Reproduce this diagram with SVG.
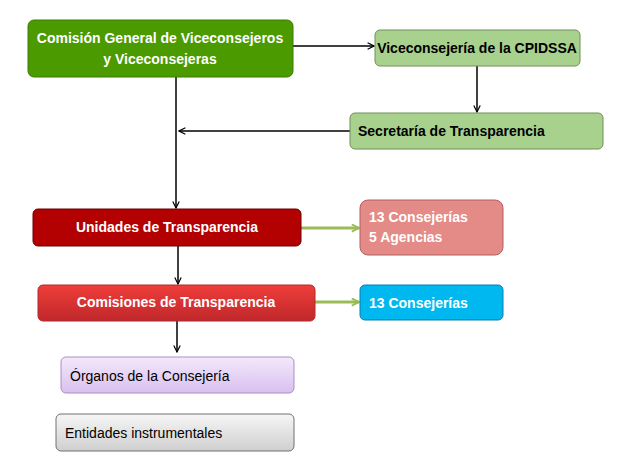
<svg xmlns="http://www.w3.org/2000/svg" width="622" height="474" viewBox="0 0 622 474">
<defs>
<style>
text{font-family:"Liberation Sans",Arial,sans-serif;font-size:14px}
.b{font-weight:bold}
.w{fill:#fff}
.k{fill:#000}
.ln{stroke:#000;stroke-width:1.5;fill:none}
.g{stroke:#9bbb59;stroke-width:3;fill:none}
</style>
<marker id="a" viewBox="0 0 10 10" refX="9" refY="5" markerWidth="8" markerHeight="8" orient="auto" markerUnits="userSpaceOnUse"><path d="M1,1 L9,5 L1,9" fill="none" stroke="#000" stroke-width="1.5"/></marker>
<marker id="ag" viewBox="0 0 10 10" refX="9" refY="5" markerWidth="9" markerHeight="9" orient="auto" markerUnits="userSpaceOnUse"><path d="M1,1 L9,5 L1,9" fill="none" stroke="#9bbb59" stroke-width="2"/></marker>
<linearGradient id="gr" x1="0" y1="0" x2="0" y2="1"><stop offset="0" stop-color="#ef3e3a"/><stop offset="1" stop-color="#c0272b"/></linearGradient>
<linearGradient id="gp" x1="0" y1="0" x2="0" y2="1"><stop offset="0" stop-color="#f3e9fb"/><stop offset="1" stop-color="#d9bff0"/></linearGradient>
<linearGradient id="gg" x1="0" y1="0" x2="0" y2="1"><stop offset="0" stop-color="#f6f6f6"/><stop offset="1" stop-color="#cfcfcf"/></linearGradient>
</defs>
<g id="connectors">
<path class="ln" d="M293,46 H374" marker-end="url(#a)" stroke-width="2.5"/>
<path class="ln" d="M477,66 V112" marker-end="url(#a)"/>
<path class="ln" d="M350,131 H179" marker-end="url(#a)"/>
<path class="ln" d="M176,77 V208" marker-end="url(#a)"/>
<path class="ln" d="M178,246 V284" marker-end="url(#a)"/>
<path class="ln" d="M177,321 V352" marker-end="url(#a)"/>
<path class="g" d="M301,228 H359" marker-end="url(#ag)"/>
<path class="g" d="M315,302 H359" marker-end="url(#ag)"/>
</g>
<g id="n1"><rect x="28" y="20" width="265" height="57" rx="6" fill="#4a9a00" stroke="#3c7d00"/><text class="b w" x="160" y="43" text-anchor="middle">Comisión General de Viceconsejeros</text><text class="b w" x="160" y="64" text-anchor="middle">y Viceconsejeras</text></g>
<g id="n2"><rect x="375" y="30" width="205" height="36" rx="5" fill="#a9d18e" stroke="#6f8f55"/><text class="b k" x="477" y="53" text-anchor="middle" font-size="13">Viceconsejería de la CPIDSSA</text></g>
<g id="n3"><rect x="350" y="113" width="253" height="36" rx="5" fill="#a9d18e" stroke="#6f8f55"/><text class="b k" x="358" y="136" font-size="15">Secretaría de Transparencia</text></g>
<g id="n4"><rect x="33" y="209" width="268" height="37" rx="5" fill="#b30000" stroke="#6b0000"/><text class="b w" x="167" y="232" text-anchor="middle">Unidades de Transparencia</text></g>
<g id="n5"><rect x="360" y="200" width="143" height="55" rx="8" fill="#e48a87" stroke="#b06060"/><text class="b w" x="369" y="222" font-size="13">13 Consejerías</text><text class="b w" x="369" y="242" font-size="13">5 Agencias</text></g>
<g id="n6"><rect x="38" y="285" width="277" height="36" rx="5" fill="url(#gr)" stroke="#b02a28"/><text class="b w" x="176" y="307" text-anchor="middle">Comisiones de Transparencia</text></g>
<g id="n7"><rect x="360" y="285" width="143" height="35" rx="5" fill="#00b8f0" stroke="#0080b0"/><text class="b w" x="369" y="308">13 Consejerías</text></g>
<g id="n8"><rect x="61" y="357" width="233" height="36" rx="5" fill="url(#gp)" stroke="#a890c0"/><text class="k" x="70" y="381" font-size="15">Órganos de la Consejería</text></g>
<g id="n9"><rect x="56" y="414" width="238" height="37" rx="5" fill="url(#gg)" stroke="#707070"/><text class="k" x="65" y="438" font-size="15">Entidades instrumentales</text></g>
</svg>
